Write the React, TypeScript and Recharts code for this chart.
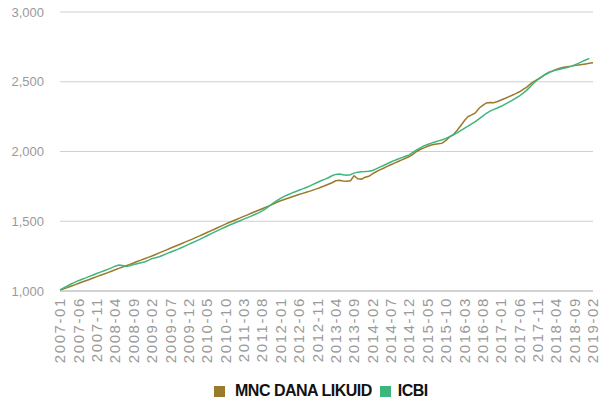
import React from "react";
import { LineChart, Line, XAxis, YAxis, CartesianGrid, Legend } from "recharts";

const MONTHS: string[] = Array.from({ length: 146 }, (_, i) => {
  const y = 2007 + Math.floor(i / 12);
  const m = (i % 12) + 1;
  return `${y}-${String(m).padStart(2, "0")}`;
});

const MNC: number[] = [
  1005, 1015, 1024, 1034, 1044, 1054, 1064, 1074, 1083, 1093,
  1103, 1113, 1122, 1132, 1142, 1152, 1162, 1172, 1181, 1191,
  1201, 1211, 1221, 1231, 1241, 1251, 1262, 1273, 1284, 1295,
  1306, 1317, 1328, 1339, 1350, 1361, 1372, 1384, 1395, 1407,
  1419, 1431, 1443, 1455, 1467, 1479, 1491, 1502, 1513, 1524,
  1535, 1546, 1557, 1568, 1579, 1590, 1601, 1612, 1624, 1636,
  1647, 1656, 1665, 1674, 1683, 1692, 1700, 1708, 1716, 1725,
  1734, 1744, 1754, 1765, 1776, 1790, 1794, 1788, 1786, 1790,
  1826, 1804, 1802, 1815, 1822, 1840, 1855, 1868, 1880, 1893,
  1905, 1917, 1928, 1940, 1952, 1964, 1980, 2000, 2014, 2026,
  2038, 2046, 2052, 2056, 2060, 2080, 2105, 2120, 2150, 2185,
  2220, 2250, 2262, 2276, 2310, 2330, 2348, 2352, 2350, 2358,
  2369, 2380, 2392, 2403, 2415, 2428, 2445, 2462, 2485, 2502,
  2518, 2535, 2552, 2566, 2578, 2588, 2597, 2604, 2608, 2612,
  2617, 2620, 2624, 2628, 2632, 2636,
];

const ICBI: (number | null)[] = [
  1008, 1022, 1036, 1050, 1062, 1074, 1084, 1094, 1105, 1115,
  1125, 1135, 1145, 1155, 1166, 1178, 1186, 1182, 1176, 1180,
  1190, 1196, 1202, 1208, 1220, 1232, 1238, 1246, 1256, 1268,
  1278, 1288, 1298, 1310, 1322, 1334, 1346, 1358, 1370, 1383,
  1396, 1409, 1422, 1435, 1447, 1459, 1471, 1482, 1493, 1504,
  1515, 1526, 1537, 1548, 1560, 1574, 1590, 1610, 1630, 1648,
  1664, 1678, 1690, 1702, 1712, 1722, 1732, 1742, 1754, 1766,
  1778, 1790, 1800, 1812, 1826, 1836, 1838, 1834, 1830, 1834,
  1845, 1852, 1855, 1856, 1858, 1864, 1875, 1888, 1900, 1912,
  1925, 1936, 1946, 1956, 1966, 1976, 1994, 2012, 2026, 2040,
  2050, 2060, 2068, 2076, 2084, 2094, 2106, 2120, 2134, 2150,
  2166, 2182, 2198, 2214, 2234, 2254, 2274, 2290, 2302, 2312,
  2324, 2338, 2352, 2366, 2382, 2398, 2418, 2440, 2466, 2494,
  2516, 2534, 2552, 2566, 2576, 2584, 2590, 2596, 2602, 2610,
  2620, 2632, 2644, 2656, 2668, null,
];

const Y_TICKS = [1000, 1500, 2000, 2500, 3000];

const SERIES_NAMES = ["MNC DANA LIKUID", "ICBI"];
const BROWN = "#9a7a2b";
const GREEN = "#3db57f";

const data = MONTHS.map((m, i) => ({ month: m, mnc: MNC[i], icbi: ICBI[i] }));

const FONT = "'Liberation Sans', Arial, sans-serif";

const XTick = (props: any) => {
  const { x, y, payload } = props;
  return (
    <g transform={`translate(${x},${y})`}>
      <text
        transform="rotate(-90)"
        x={-6}
        y={0}
        dy="0.35em"
        textAnchor="end"
        fill="#9a9a9a"
        fontSize={15}
        fontFamily={FONT}
        style={{ letterSpacing: "1.6px" }}
      >
        {payload.value}
      </text>
    </g>
  );
};

const renderLegend = () => (
  <div
    style={{
      display: "flex",
      alignItems: "center",
      height: 24,
      paddingLeft: 214,
      fontFamily: FONT,
      fontSize: 16,
      fontWeight: "bold",
      letterSpacing: "-0.5px",
      color: "#111",
      whiteSpace: "nowrap",
    }}
  >
    <span style={{ display: "inline-block", width: 11, height: 11, background: BROWN, marginRight: 10 }} />
    <span style={{ marginRight: 8 }}>{SERIES_NAMES[0]}</span>
    <span style={{ display: "inline-block", width: 11, height: 11, background: GREEN, marginRight: 7 }} />
    <span>{SERIES_NAMES[1]}</span>
  </div>
);

export default function App() {
  return (
    <div style={{ position: "absolute", left: 0, top: 0 }}>
      <LineChart
        width={604}
        height={403}
        data={data}
        margin={{ top: 12, right: 11, left: 0, bottom: 0 }}
      >
        <CartesianGrid vertical={false} stroke="#cfcfcf" />
        <XAxis
          dataKey="month"
          interval={4}
          height={88}
          tick={<XTick />}
          tickLine={false}
          tickSize={0}
          tickMargin={0}
          axisLine={{ stroke: "#bdbdbd" }}
        />
        <YAxis
          domain={[1000, 3000]}
          ticks={Y_TICKS}
          width={60}
          axisLine={false}
          tickLine={false}
          tickSize={0}
          tickMargin={16}
          tick={{ fill: "#9a9a9a", fontSize: 13, fontFamily: FONT }}
          tickFormatter={(v: number) => v.toLocaleString("en-US")}
        />
        <Legend
          verticalAlign="bottom"
          content={renderLegend}
          wrapperStyle={{ left: 0, width: 604, bottom: 0 }}
        />
        <Line
          type="linear"
          dataKey="mnc"
          name={SERIES_NAMES[0]}
          stroke={BROWN}
          strokeWidth={1.5}
          dot={false}
          isAnimationActive={false}
        />
        <Line
          type="linear"
          dataKey="icbi"
          name={SERIES_NAMES[1]}
          stroke={GREEN}
          strokeWidth={1.5}
          dot={false}
          isAnimationActive={false}
        />
      </LineChart>
    </div>
  );
}
